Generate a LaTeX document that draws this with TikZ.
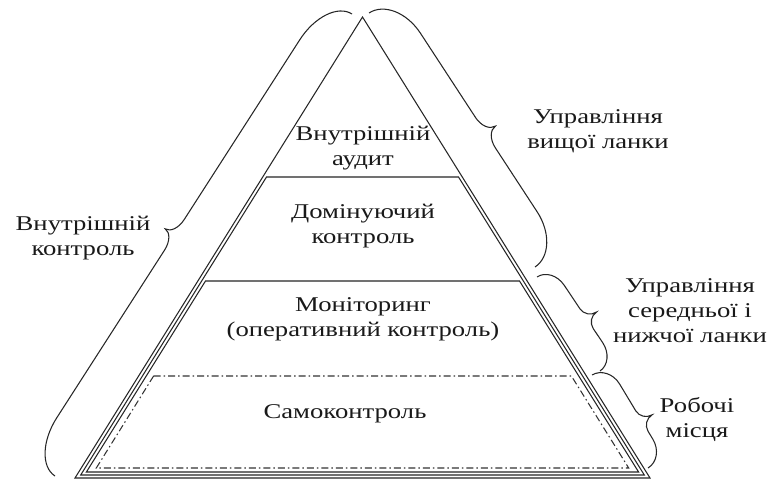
\documentclass[tikz,border=0pt]{standalone}
\usepackage{fontspec}
\usepackage{graphicx}
\setmainfont{Liberation Serif}[FakeStretch=1.27]
\usetikzlibrary{calc}
\tikzset{
  edge/.style={draw=black!85, line width=1.05pt},
  dashdotline/.style={draw=black!80, line width=1.05pt, dash pattern=on 7pt off 3pt on 1.5pt off 3pt},
  bracestyle/.style={draw=black!85, line width=1.05pt},
  lab/.style={font=\fontsize{21}{25}\selectfont, align=center, inner sep=0pt, text=black!90}
}
\newcommand{\pbrace}[7]{%
  \coordinate (bU) at ($(#1)!1pt!(#2)-(#1)$);
  \coordinate (bN) at ($(#1)!1pt!90:(#2)-(#1)$);
  \coordinate (bM) at ($(#1)!#7!(#2)$);
  \draw[bracestyle] (#1)
   .. controls ($(#1)+{0.552*#3}*(bN)$) and ($(#1)+{0.448*#5}*(bU)+{#3}*(bN)$) .. ($(#1)+{#5}*(bU)+{#3}*(bN)$)
   -- ($(bM)-{#6}*(bU)+{#3}*(bN)$)
   .. controls ($(bM)-{0.448*#6}*(bU)+{#3}*(bN)$) and ($(bM)+{#3+0.448*#4}*(bN)$) .. ($(bM)+{#3+#4}*(bN)$)
   .. controls ($(bM)+{#3+0.448*#4}*(bN)$) and ($(bM)+{0.448*#6}*(bU)+{#3}*(bN)$) .. ($(bM)+{#6}*(bU)+{#3}*(bN)$)
   -- ($(#2)-{#5}*(bU)+{#3}*(bN)$)
   .. controls ($(#2)-{0.448*#5}*(bU)+{#3}*(bN)$) and ($(#2)+{0.552*#3}*(bN)$) .. (#2);
}
\begin{document}
\begin{tikzpicture}[x=1pt,y=-1pt]
\useasboundingbox[fill=white] (0,0) rectangle (773,479);
% outer triangle
\coordinate (apex) at (362.5,17);
\coordinate (bl) at (75,478);
\coordinate (br) at (650,478);
\draw[edge] (apex) -- (br) -- (bl) -- cycle;
% level 2
\coordinate (t2l) at (266.5,177); \coordinate (t2r) at (458.5,177);
\coordinate (b2r) at (644.3,475); \coordinate (b2l) at (80.7,475);
\draw[edge] (t2l) -- (t2r) -- (b2r) -- (b2l) -- cycle;
% level 3
\coordinate (t3l) at (205.5,281); \coordinate (t3r) at (519.5,281);
\coordinate (b3r) at (638.6,472); \coordinate (b3l) at (86.4,472);
\draw[edge] (t3l) -- (t3r) -- (b3r) -- (b3l) -- cycle;
% level 4 dash-dot
\coordinate (t4l) at (153.6,376); \coordinate (t4r) at (571.4,376);
\coordinate (b4r) at (628.7,468); \coordinate (b4l) at (96.3,468);
\draw[dashdotline] (t4l) -- (t4r) -- (b4r) -- (b4l) -- cycle;

% texts inside
\node[lab] (audit) at (363,148) {Внутрішній\\аудит};
\node[lab] (domin) at (363,226) {Домінуючий\\контроль};
\node[lab] (monit) at (363,319) {Моніторинг\\(оперативний контроль)};
\node[lab] (samo) at (345,414) {Самоконтроль};
% outside labels
\node[lab] (vk) at (83,238) {Внутрішній\\контроль};
\node[lab] (uv) at (598,131) {Управління\\вищої ланки};
\node[lab] (us) at (690,311) {Управління\\середньої і\\нижчої ланки};
\node[lab] (rm) at (697,420) {Робочі\\місця};

% braces
\coordinate (lbA) at (55,476); \coordinate (lbB) at (352,14);
\pbrace{lbA}{lbB}{30}{11}{50}{18}{0.487}
\coordinate (r1A) at (369,13); \coordinate (r1B) at (535,267);
\pbrace{r1A}{r1B}{32}{12}{45}{18}{0.54}
\coordinate (r2A) at (537,277); \coordinate (r2B) at (600,371);
\pbrace{r2A}{r2B}{18}{12}{22}{12}{0.55}
\coordinate (r3A) at (592,375); \coordinate (r3B) at (648,468);
\pbrace{r3A}{r3B}{19}{12}{22}{12}{0.6}
\end{tikzpicture}
\end{document}
